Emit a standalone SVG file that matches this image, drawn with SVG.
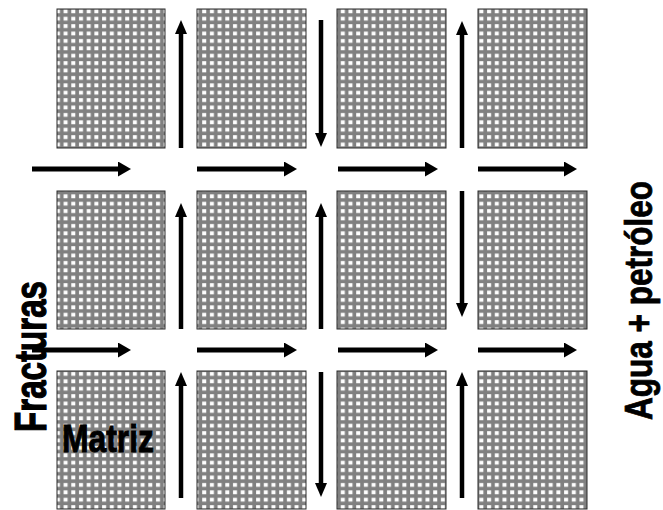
<svg xmlns="http://www.w3.org/2000/svg" width="663" height="510" viewBox="0 0 663 510">
<style>
.blk{fill:url(#dots);stroke:#2a2a2a;stroke-width:1}
.arr{stroke:#000;stroke-width:5;fill:none;marker-end:url(#ah)}
.varr{stroke:#000;stroke-width:4.5;fill:none;marker-end:url(#ahv)}
.lbl{font-family:"Liberation Sans",Arial,sans-serif;font-weight:bold;fill:#000;stroke:#000}
</style>
<defs>
<pattern id="dots" patternUnits="userSpaceOnUse" x="0" y="0" width="7.7" height="7.4">
<rect width="7.7" height="7.4" fill="#808080"/>
<rect x="2" y="2" width="4" height="3.8" fill="#fff"/>
</pattern>
<marker id="ah" viewBox="0 0 13 15" markerUnits="userSpaceOnUse" markerWidth="13" markerHeight="15" refX="1" refY="7.5" orient="auto">
<path d="M0,0 L13,7.5 L0,15 z" fill="#000"/>
</marker>
<marker id="ahv" viewBox="0 0 14 12" markerUnits="userSpaceOnUse" markerWidth="14" markerHeight="12" refX="1" refY="6" orient="auto">
<path d="M0,0 L14,6 L0,12 z" fill="#000"/>
</marker>
</defs>
<rect width="663" height="510" fill="#fff"/>
<g id="matrix-blocks">
<rect id="b11" class="blk" x="57" y="9" width="108" height="139"/>
<rect id="b12" class="blk" x="197" y="9" width="109" height="139"/>
<rect id="b13" class="blk" x="337" y="9" width="109" height="139"/>
<rect id="b14" class="blk" x="478" y="9" width="109" height="139"/>
<rect id="b21" class="blk" x="57" y="191" width="108" height="138"/>
<rect id="b22" class="blk" x="197" y="191" width="109" height="138"/>
<rect id="b23" class="blk" x="337" y="191" width="109" height="138"/>
<rect id="b24" class="blk" x="478" y="191" width="109" height="138"/>
<rect id="b31" class="blk" x="57" y="371" width="108" height="138"/>
<rect id="b32" class="blk" x="197" y="371" width="109" height="138"/>
<rect id="b33" class="blk" x="337" y="371" width="109" height="138"/>
<rect id="b34" class="blk" x="478" y="371" width="109" height="138"/>
</g>
<g id="connectors">
<line class="arr" x1="32" y1="169" x2="119" y2="169"/>
<line class="arr" x1="197" y1="169" x2="285" y2="169"/>
<line class="arr" x1="338" y1="169" x2="426" y2="169"/>
<line class="arr" x1="478" y1="169" x2="565" y2="169"/>
<line class="arr" x1="32" y1="350" x2="119" y2="350"/>
<line class="arr" x1="197" y1="350" x2="285" y2="350"/>
<line class="arr" x1="338" y1="350" x2="426" y2="350"/>
<line class="arr" x1="478" y1="350" x2="565" y2="350"/>
<line class="varr" x1="181" y1="148" x2="181" y2="33"/>
<line class="varr" x1="321" y1="20" x2="321" y2="134"/>
<line class="varr" x1="462" y1="148" x2="462" y2="34"/>
<line class="varr" x1="181" y1="329" x2="181" y2="216"/>
<line class="varr" x1="321" y1="329" x2="321" y2="216"/>
<line class="varr" x1="462" y1="191" x2="462" y2="304"/>
<line class="varr" x1="181" y1="498" x2="181" y2="385"/>
<line class="varr" x1="321" y1="372" x2="321" y2="484"/>
<line class="varr" x1="462" y1="498" x2="462" y2="385"/>
</g>
<g id="labels">
<text id="fracturas" class="lbl" font-size="45" stroke-width="1.2" transform="translate(46,432) rotate(-90)" textLength="151" lengthAdjust="spacingAndGlyphs">Fracturas</text>
<text id="matriz" class="lbl" font-size="39" stroke-width="1" x="62" y="452" textLength="92" lengthAdjust="spacingAndGlyphs">Matriz</text>
<text id="agua" class="lbl" font-size="38" stroke-width="0.8" transform="translate(652,420) rotate(-90)" textLength="239" lengthAdjust="spacingAndGlyphs">Agua + petróleo</text>
</g>
</svg>
